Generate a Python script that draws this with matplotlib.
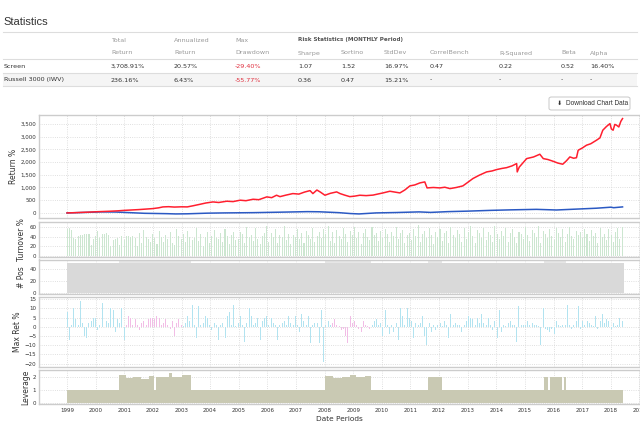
import numpy as np
import matplotlib
matplotlib.use('Agg')
import matplotlib.pyplot as plt
from matplotlib.patches import Rectangle, FancyBboxPatch
from matplotlib.ticker import FuncFormatter

# ---- statistics table ----
hdr_top = ['Total', 'Annualized', 'Max']
hdr_cols = ['Return', 'Return', 'Drawdown', 'Sharpe', 'Sortino', 'StdDev',
            'CorrelBench', 'R-Squared', 'Beta', 'Alpha']
row_names = ['Screen', 'Russell 3000 (IWV)']
screen_vals = ['3,708.91%', '20.57%', '-29.40%', '1.07', '1.52', '16.97%',
               '0.47', '0.22', '0.52', '16.40%']
bench_vals = ['236.16%', '6.43%', '-55.77%', '0.36', '0.47', '15.21%',
              '-', '-', '-', '-']

# ---- cumulative return % (decimal year, value) ----
screen_t = [1999.00, 1999.25, 1999.50, 1999.75, 2000.00, 2000.25, 2000.50, 2000.75,
            2001.00, 2001.25, 2001.50, 2001.75, 2002.00, 2002.20, 2002.35, 2002.55,
            2002.75, 2003.00, 2003.20, 2003.40, 2003.65, 2003.85, 2004.10, 2004.30,
            2004.58, 2004.80, 2005.05, 2005.25, 2005.50, 2005.70, 2005.98, 2006.15,
            2006.32, 2006.44, 2006.65, 2006.89, 2007.10, 2007.30, 2007.49, 2007.59,
            2007.73, 2007.85, 2008.01, 2008.20, 2008.42, 2008.54, 2008.70, 2008.88,
            2009.05, 2009.23, 2009.45, 2009.69, 2009.85, 2010.04, 2010.28, 2010.45,
            2010.63, 2010.80, 2010.98, 2011.15, 2011.33, 2011.50, 2011.58, 2011.80,
            2012.03, 2012.20, 2012.38, 2012.60, 2012.83, 2013.00, 2013.18, 2013.40,
            2013.66, 2013.85, 2014.01, 2014.20, 2014.36, 2014.55, 2014.71, 2014.73,
            2014.80, 2015.06, 2015.30, 2015.52, 2015.64, 2015.80, 2015.98, 2016.15,
            2016.32, 2016.45, 2016.57, 2016.70, 2016.80, 2016.86, 2017.00, 2017.15,
            2017.30, 2017.50, 2017.62, 2017.72, 2017.85, 2017.97, 2018.02, 2018.08,
            2018.14, 2018.20, 2018.28, 2018.35, 2018.41]
screen_ret = [0, 8, 20, 30, 45, 55, 66, 80,
              100, 115, 130, 150, 170, 200, 236, 245,
              230, 240, 236, 280, 340, 390, 432, 410,
              460, 445, 500, 480, 537, 520, 630, 600,
              695, 640, 700, 760, 740, 820, 877, 760,
              900, 820, 695, 770, 826, 760, 700, 640,
              660, 695, 680, 700, 740, 786, 852, 820,
              786, 900, 1062, 1100, 1180, 1219, 983, 1000,
              983, 1010, 956, 1000, 1062, 1200, 1350, 1480,
              1612, 1650, 1704, 1750, 1780, 1850, 1940, 1612,
              1800, 2136, 2200, 2307, 2136, 2100, 2032, 1960,
              1914, 2050, 2202, 2150, 2170, 2465, 2550, 2662,
              2720, 2859, 2950, 3252, 3400, 3512, 3300, 3252,
              3480, 3450, 3380, 3600, 3709]

bench_t = [1999.0, 1999.5, 2000.2, 2000.7, 2001.2, 2001.7, 2002.5, 2002.8, 2003.2,
           2003.9, 2004.5, 2005.5, 2006.5, 2007.4, 2007.8, 2008.5, 2008.9, 2009.2,
           2009.8, 2010.5, 2011.3, 2011.7, 2012.3, 2013.0, 2013.8, 2014.5, 2015.4,
           2016.1, 2016.8, 2017.5, 2018.0, 2018.1, 2018.41]
bench_ret = [0, 15, 40, 35, 10, -15, -30, -40, -35,
             -10, 0, 10, 30, 50, 45, 10, -25, -40,
             0, 15, 40, 20, 50, 70, 100, 120, 140,
             115, 150, 185, 225, 205, 236]

# ---- per-period series (4-week periods from 1999) ----
turnover = [56, 58, 53, 37, 36, 41, 43, 44, 45, 46, 46, 24, 36,
            41, 51, 37, 45, 45, 47, 43, 20, 34, 36, 37, 24, 41,
            34, 41, 41, 39, 41, 37, 20, 48, 28, 54, 40, 36, 30,
            45, 38, 26, 52, 40, 30, 44, 35, 50, 27, 22, 56, 42,
            36, 45, 30, 52, 40, 34, 38, 58, 32, 46, 20, 40, 50,
            28, 42, 53, 38, 36, 47, 30, 55, 41, 26, 44, 49, 33,
            35, 50, 45, 27, 60, 39, 44, 31, 58, 36, 25, 42, 48,
            62, 30, 47, 40, 55, 28, 44, 39, 61, 33, 46, 25, 43,
            40, 56, 35, 48, 27, 52, 44, 36, 57, 30, 41, 50, 38,
            55, 45, 62, 32, 49, 28, 54, 42, 36, 58, 46, 30, 52,
            44, 60, 37, 50, 26, 47, 55, 40, 33, 59, 43, 48, 31,
            52, 38, 56, 45, 29, 50, 42, 60, 35, 47, 53, 27, 44,
            48, 34, 55, 41, 63, 30, 46, 52, 38, 57, 43, 26, 49,
            40, 56, 32, 47, 51, 28, 60, 44, 37, 53, 45, 30, 58,
            35, 49, 62, 42, 27, 54, 47, 38, 57, 33, 50, 44, 29,
            61, 45, 36, 52, 41, 58, 30, 48, 55, 39, 27, 50, 46,
            36, 59, 43, 31, 54, 47, 40, 62, 28, 51, 45, 37, 56,
            42, 33, 57, 48, 39, 55, 29, 46, 60, 41, 35, 52, 44,
            50, 38, 56, 45, 31, 53, 42, 48, 27, 57, 40, 46, 34,
            55, 43, 30, 49, 58, 36, 60]

max_ret = [8, -7, 1, 10, 4, 1, 14, 2, -5, -6, 2, 3, 5,
           5, -2, 1, 13, 0, 3, 2, 10, 9, -3, 4, 2, 10,
           -7, 1, 6, 5, 1, 4, 1, -2, 2, 3, 1, 4, 5,
           5, 4, 6, 5, 1, 2, 4, 1, -1, 3, -5, 2, 4,
           1, 0.5, 2, 6, 3, 12, 1, -6, 11, 1, 2, 6, 5,
           1, -2, 2, 1, -7, 1, 2, -6, 6, 8, 1, 12, 0.5,
           2, 6, 1, -8, 2, 10, 6, 1, 2, 5, -7, 3, 5,
           6, 1, 5, 2, 1, -7, 1, 2, 3, 1, 6, 2, 1,
           6, 1, -3, 7, 3, 1, 6, -9, 1, 2, 2, -9, 9,
           -19, 1, 3, 1, 2, 4, 1, 0.5, -2, -1, -5, -9, 6,
           2, 3, 1, -1, -3, 3, 1, 0.5, -1, 1, 3, 4, 1,
           2, -5, 9, 1, -4, 1, -3, 2, -7, 10, 6, 1, 10,
           5, 3, -6, 2, 1, 2, 6, -5, -10, 2, -3, 1, -2,
           1, 2, 0.5, 3, 1, -6, 7, 1, 2, 1, 1, -3, 1,
           3, 6, 5, 4, 1, 5, 2, 7, 2, 1, 5, 1, -2,
           3, -6, 9, -3, 1, 0.5, 2, 3, 1, 1, -8, 11, 1,
           1, 1, 3, 1, 2, 1, 1, 0.5, -10, 10, -1, -2, -3,
           -1, -4, 3, 1, 0.5, 1, 1, 12, 1, -1, 1, 3, 11,
           -1, 3, 1, 3, 2, 1, 0.5, 6, -1, 3, 7, 2, 4,
           3, -1, 2, 0.5, 1, 5, 3]

n_pos = 50
n_pos_lev = 100
pos_lev_spans = [(2000.83, 2003.33), (2008.01, 2009.62), (2011.62, 2012.09), (2015.67, 2016.43)]
pink_spans = [(2001.0, 2003.0), (2008.2, 2009.6)]

base_lev = 1.0
lev_spans = [(2000.83, 2001.05, 2.1), (2001.05, 2001.30, 1.9), (2001.30, 2001.60, 2.0),
             (2001.60, 2001.85, 1.85), (2001.85, 2002.05, 2.05), (2002.11, 2002.40, 2.0),
             (2002.40, 2002.55, 1.95), (2002.55, 2002.65, 2.3), (2002.65, 2003.00, 2.0),
             (2003.00, 2003.33, 2.1), (2008.01, 2008.30, 2.05), (2008.30, 2008.60, 1.9),
             (2008.60, 2008.90, 1.95), (2008.90, 2009.10, 2.1), (2009.10, 2009.40, 1.95),
             (2009.40, 2009.62, 2.05), (2011.62, 2012.09, 2.0), (2015.67, 2015.82, 2.0),
             (2015.89, 2016.28, 2.0), (2016.36, 2016.43, 2.0)]

years = list(range(1999, 2020))

# ---- figure ----
W, H = 640, 426
fig = plt.figure(figsize=(6.4, 4.26), dpi=100)
plt.rcParams['font.family'] = 'DejaVu Sans'


def fx(x):
    return x / W


def fy(y):
    return 1 - y / H


# header and table
fig.text(fx(3), fy(22), 'Statistics', fontsize=8, color='#333333',
         family='Liberation Sans', va='center', ha='left')
fig.add_artist(Rectangle((fx(3), fy(86)), fx(634), (86 - 72.7) / H,
                         color='#f5f5f5', lw=0, transform=fig.transFigure))
for yy in [32.3, 59.3, 72.7, 86]:
    fig.add_artist(plt.Line2D([fx(3), fx(637)], [fy(yy), fy(yy)], color='#dddddd',
                              lw=0.8, transform=fig.transFigure))

col_x = [111, 174, 235, 298, 341, 384, 430, 499, 561, 590]
for i, t in enumerate(hdr_top):
    fig.text(fx(col_x[i]), fy(40), t, fontsize=4.6, color='#999999', va='center')
fig.text(fx(298), fy(40), 'Risk Statistics (MONTHLY Period)', fontsize=4.1,
         color='#555555', weight='bold', va='center')
for i, t in enumerate(hdr_cols):
    fig.text(fx(col_x[i]), fy(53), t, fontsize=4.6, color='#999999', va='center')
for row_y, name, vals in [(66, row_names[0], screen_vals), (80, row_names[1], bench_vals)]:
    fig.text(fx(4), fy(row_y), name, fontsize=4.6, color='#333333', va='center')
    for i, v in enumerate(vals):
        c = '#e0303f' if i == 2 else '#333333'
        fig.text(fx(col_x[i]), fy(row_y), v, fontsize=4.6, color=c, va='center')

# download button
fig.add_artist(FancyBboxPatch((fx(549), fy(110)), fx(81), 13 / H,
                              boxstyle='round,pad=0,rounding_size=0.004',
                              fc='white', ec='#c8c8c8', lw=0.7,
                              transform=fig.transFigure))
fig.text(fx(557), fy(103.5), '\u2b07', fontsize=4.6, color='#333333',
         va='center', ha='left')
fig.text(fx(566), fy(103.5), 'Download Chart Data', fontsize=4.7, color='#333333',
         family='Liberation Sans', va='center', ha='left')

# ---- panels ----
periods = 1999.0 + np.arange(len(turnover)) * 28 / 365.25
step = 28 / 365.25
end_t = screen_t[-1]


def panel(top, bottom):
    ax = fig.add_axes([fx(39), fy(bottom), 1 - fx(39), (bottom - top) / H])
    ax.set_xlim(1998.02, 2019.02)
    ax.set_xticks(years)
    for s in ax.spines.values():
        s.set_color('#cccccc')
        s.set_linewidth(1.0)
    ax.tick_params(length=0, labelsize=4, colors='#333333', pad=2)
    ax.grid(True, ls=':', color='#d5d5d5', lw=0.6)
    ax.set_axisbelow(True)
    ax.tick_params(axis='x', labelbottom=False)
    return ax


ax1 = panel(115, 218)
ax1.plot(bench_t, bench_ret, color='#2b59c3', lw=1.1)
ax1.plot(screen_t, screen_ret, color='#ff1f2f', lw=1.1)
ax1.set_ylim(-200, 3850)
ax1.set_yticks(range(0, 3501, 500))
ax1.yaxis.set_major_formatter(FuncFormatter(lambda v, p: f'{v:,.0f}'))
ax1.set_ylabel('Return %', fontsize=5.5, color='#333333', labelpad=2)

ax2 = panel(222, 257)
ax2.bar(periods, turnover, width=0.036, color='#cce6d0', lw=0)
ax2.set_ylim(-1.5, 70)
ax2.set_yticks([0, 20, 40, 60])
ax2.set_ylabel('Turnover %', fontsize=5.5, color='#333333', labelpad=2)

ax3 = panel(259.5, 294)
for a, b in pos_lev_spans:
    ax3.bar(a, n_pos_lev, width=b - a, align='edge', color='#e6e6e6', lw=0)
ax3.bar(periods, n_pos, width=step, align='edge', color='#d9d9d9', lw=0)
ax3.set_ylim(-1, 55)
ax3.set_yticks([0, 20, 40])
ax3.set_ylabel('# Pos', fontsize=5.5, color='#333333', labelpad=2)

ax4 = panel(297, 366.7)
mr_colors = ['#f2bde6' if any(a <= t <= b for a, b in pink_spans) else '#b2e3f0'
             for t in periods]
ax4.bar(periods, max_ret, width=0.035, color=mr_colors, lw=0)
ax4.set_ylim(-21.6, 16.1)
ax4.set_yticks(range(-20, 16, 5))
ax4.set_ylabel('Max Ret %', fontsize=5.5, color='#333333', labelpad=2)

ax5 = panel(370, 404)
ax5.bar(1999.0, base_lev, width=end_t - 1999.0, align='edge', color='#c9c9b3', lw=0)
for a, b, lv in lev_spans:
    ax5.bar(a, lv, width=b - a, align='edge', color='#c9c9b3', lw=0)
ax5.set_ylim(-0.05, 2.5)
ax5.set_yticks([0, 1, 2])
ax5.set_ylabel('Leverage', fontsize=5.5, color='#333333', labelpad=2)
ax5.tick_params(axis='x', labelbottom=True, pad=3)
ax5.set_xticklabels([str(y) for y in years])
ax5.set_xlabel('Date Periods', fontsize=5.3, color='#333333', labelpad=2)

fig.savefig('out.png', dpi=100)
